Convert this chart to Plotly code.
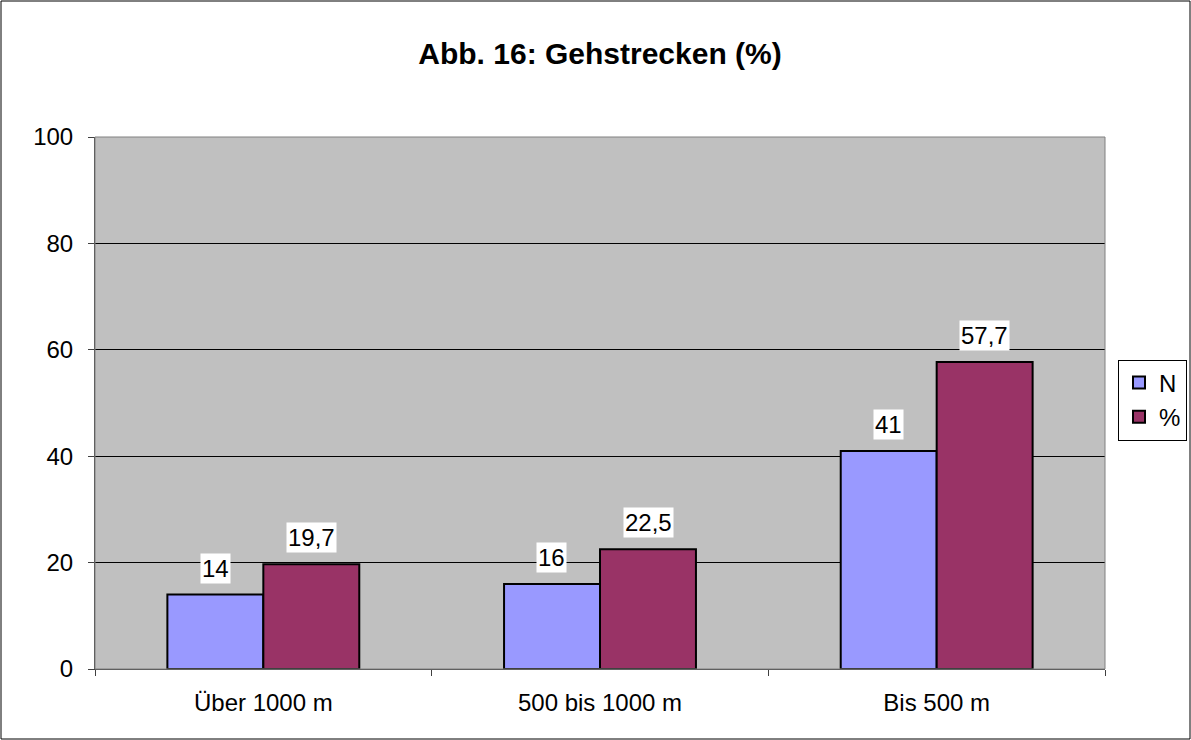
import plotly.graph_objects as go

categories = ["Über 1000 m", "500 bis 1000 m", "Bis 500 m"]
n_values = [14, 16, 41]
pct_values = [19.7, 22.5, 57.7]
n_labels = ["14", "16", "41"]
pct_labels = ["19,7", "22,5", "57,7"]
y_ticks = [0, 20, 40, 60, 80, 100]

ML, MR, MT, MB = 95, 86, 137, 71
W, H = 1191, 740
PW, PH = W - ML - MR, H - MT - MB

font = "Liberation Sans, Arial, sans-serif"
FS = 24

fig = go.Figure()
fig.add_trace(go.Bar(x=categories, y=n_values, name="N", marker=dict(color="#9999FF", line=dict(color="black", width=2))))
fig.add_trace(go.Bar(x=categories, y=pct_values, name="%", marker=dict(color="#993366", line=dict(color="black", width=2))))

annotations = []
for i, c in enumerate(categories):
    for val, lab, off in [(n_values[i], n_labels[i], -0.143), (pct_values[i], pct_labels[i], 0.143)]:
        annotations.append(dict(x=i + off, y=val, xref="x", yref="y", text=lab, showarrow=False,
                                yanchor="bottom", yshift=11, bgcolor="white", borderpad=1,
                                font=dict(size=FS, color="black", family=font)))

fig.update_layout(
    width=W, height=H,
    margin=dict(l=ML, r=MR, t=MT, b=MB, autoexpand=False),
    paper_bgcolor="white",
    plot_bgcolor="#C0C0C0",
    barmode="group",
    bargap=0.43,
    bargroupgap=0,
    font=dict(family=font, size=FS, color="black"),
    title=dict(text="<b>Abb. 16: Gehstrecken (%)</b>", x=0.5, xref="paper", y=1 - 53 / H, yanchor="middle",
               font=dict(size=30, family=font, color="black")),
    legend=dict(xref="container", yref="container", x=1187 / W, y=1 - 400 / H, xanchor="right", yanchor="middle",
                bgcolor="white", bordercolor="black", borderwidth=1,
                font=dict(size=FS, family=font), itemwidth=30, tracegroupgap=4),
    annotations=annotations,
    shapes=[
        dict(type="rect", xref="paper", yref="paper",
             x0=(-ML + 1) / PW, x1=1 + (MR - 1) / PW, y0=(-MB + 1) / PH, y1=1 + (MT - 1) / PH,
             line=dict(color="black", width=1), fillcolor="rgba(0,0,0,0)", layer="below"),
        dict(type="rect", xref="paper", yref="paper", x0=0, x1=1, y0=0, y1=1,
             line=dict(color="#808080", width=1), fillcolor="rgba(0,0,0,0)"),
    ],
)
fig.update_xaxes(type="category", showline=True, linecolor="#404040", linewidth=1,
                 ticks="outside", tickson="boundaries", ticklen=6, tickcolor="#404040",
                 ticklabelstandoff=12,
                 showgrid=False, tickfont=dict(size=FS, family=font))
fig.update_yaxes(range=[0, 100], tickvals=y_ticks, showline=True, linecolor="#404040", linewidth=1,
                 ticks="outside", ticklen=6, tickcolor="#404040", ticklabelstandoff=10,
                 showgrid=True, gridcolor="black", gridwidth=1, zeroline=False,
                 tickfont=dict(size=FS, family=font))

fig.write_html(
    "out.html",
    config={"displayModeBar": False},
    post_script="document.body.style.margin='0';document.body.style.overflow='hidden';"
                "document.documentElement.style.overflow='hidden';",
)
